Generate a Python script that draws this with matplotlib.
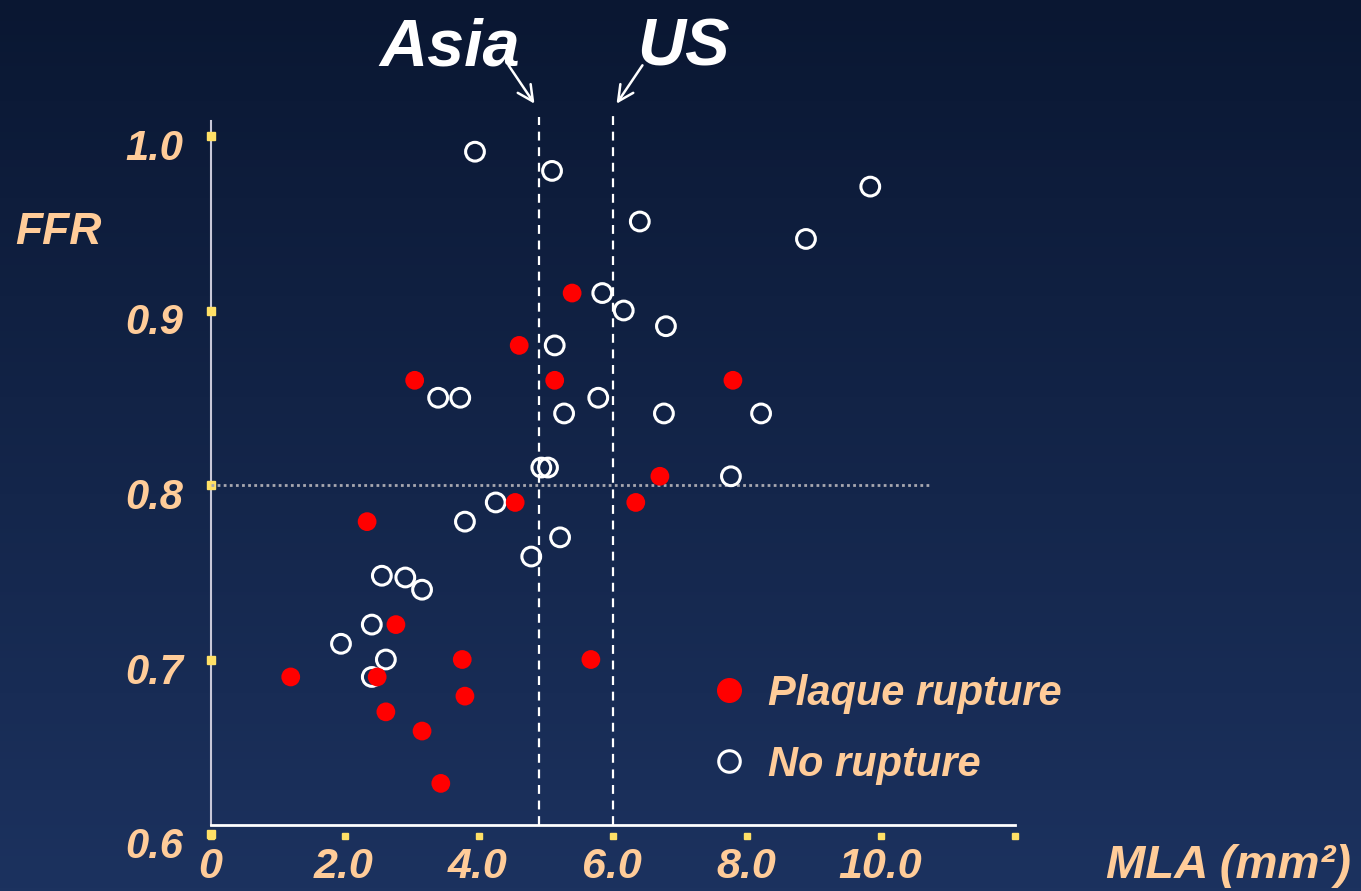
import numpy as np
import matplotlib.pyplot as plt
from matplotlib.lines import Line2D
from matplotlib.patches import FancyArrowPatch

# Data (MLA in mm2, FFR)
rupture_mla = [5.39, 4.60, 3.04, 5.13, 7.79, 6.70, 4.54, 6.34, 2.33,
               2.76, 3.75, 5.67, 1.19, 2.48, 3.79, 2.61, 3.15, 3.43]
rupture_ffr = [0.910, 0.880, 0.860, 0.860, 0.860, 0.805, 0.790, 0.790, 0.779,
               0.720, 0.700, 0.700, 0.690, 0.690, 0.679, 0.670, 0.659, 0.629]

norupt_mla = [3.94, 5.09, 6.40, 9.84, 8.88, 5.84, 6.16, 6.79, 5.13, 3.39,
              3.72, 5.78, 5.27, 6.76, 8.21, 4.93, 5.03, 7.76, 4.25, 3.79,
              5.21, 4.78, 2.55, 2.90, 3.15, 2.40, 1.94, 2.61, 2.40]
norupt_ffr = [0.991, 0.980, 0.951, 0.971, 0.941, 0.910, 0.900, 0.891, 0.880, 0.850,
              0.850, 0.850, 0.841, 0.841, 0.841, 0.810, 0.810, 0.805, 0.790, 0.779,
              0.770, 0.759, 0.748, 0.747, 0.740, 0.720, 0.709, 0.700, 0.690]

x_ticks = [0, 2, 4, 6, 8, 10, 12]
x_labels = ['0', '2.0', '4.0', '6.0', '8.0', '10.0', '']
y_ticks = [0.6, 0.7, 0.8, 0.9, 1.0]
y_labels = ['0.6', '0.7', '0.8', '0.9', '1.0']

asia_cut = 4.9
us_cut = 6.0
ffr_cut = 0.8

orange = '#FFCC99'
yellow = '#FFE066'
font = 'Liberation Sans'

W, H = 1361, 891
fig = plt.figure(figsize=(W / 100, H / 100), dpi=100)

# background gradient
bg = fig.add_axes([0, 0, 1, 1], zorder=-10)
top = np.array([10, 23, 50]) / 255
bot = np.array([28, 50, 95]) / 255
t = np.linspace(0, 1, 256)[:, None]
grad = top + (bot - top) * t
bg.imshow(grad[:, None, :].repeat(2, axis=1), aspect='auto', extent=[0, 1, 0, 1])
bg.axis('off')

# main axes: x 0..12 -> px 211..1015, y 0.6..1.0 -> px 834..136
ax = fig.add_axes([211 / W, (H - 834) / H, 804 / W, 698 / H])
ax.set_xlim(0, 12)
ax.set_ylim(0.6, 1.0)
ax.patch.set_alpha(0)
for s in ax.spines.values():
    s.set_visible(False)
ax.set_xticks([])
ax.set_yticks([])

# axis lines
ax.plot([0, 0], [0.605, 1.0086], color='#C8C8D8', lw=1.5, clip_on=False)
ax.plot([0, 12], [0.605, 0.605], color='white', lw=2, clip_on=False)

# tick marks (yellow squares) and labels
ax.plot(np.zeros(len(y_ticks)), y_ticks, 's', color=yellow, ms=5.5, clip_on=False)
ax.plot(x_ticks, np.full(len(x_ticks), 0.5989), 's', color=yellow, ms=4.5, clip_on=False)
for yv, lab in zip(y_ticks, y_labels):
    ax.annotate(lab, (0, yv), xytext=(-28, -13), textcoords='offset pixels',
                ha='right', va='center', color=orange, fontsize=30,
                family=font, weight='bold', style='italic', annotation_clip=False)
for xv, lab in zip(x_ticks, x_labels):
    ax.annotate(lab, (xv, 0.6), xytext=(-1, -33), textcoords='offset pixels',
                ha='center', va='center', color=orange, fontsize=31,
                family=font, weight='bold', style='italic', annotation_clip=False)

fig.text(58 / W, (H - 232) / H, 'FFR', color=orange, fontsize=32, family=font,
         weight='bold', style='italic', ha='center', va='center')
fig.text(1229 / W, (H - 866) / H, 'MLA (mm²)', color=orange, fontsize=34,
         family=font, weight='bold', style='italic', ha='center', va='center')

# cut-off lines
ax.plot([asia_cut, asia_cut], [0.605, 1.011], color='white', lw=1.6,
        dashes=(4, 3), clip_on=False)
ax.plot([us_cut, us_cut], [0.605, 1.012], color='white', lw=1.6,
        dashes=(4, 3), clip_on=False)
ax.plot([0, 10.75], [ffr_cut, ffr_cut], color='#A8A8B0', lw=2, dashes=(1, 1.2))

# points
ax.scatter(norupt_mla, norupt_ffr, s=13.5 ** 2, facecolors='none',
           edgecolors='white', linewidths=2.2, zorder=5)
ax.scatter(rupture_mla, rupture_ffr, s=13.5 ** 2, color='#FF0000',
           edgecolors='none', zorder=6)

# Asia / US labels with arrows
fig.text(450 / W, (H - 48) / H, 'Asia', color='white', fontsize=48, family=font,
         weight='bold', style='italic', ha='center', va='center')
fig.text(683 / W, (H - 48) / H, 'US', color='white', fontsize=48, family=font,
         weight='bold', style='italic', ha='center', va='center')
arrow = dict(arrowstyle='->', color='white', lw=1.8, mutation_scale=28)
fig.add_artist(FancyArrowPatch((507, H - 63), (536, H - 106), transform=None, **arrow))
fig.add_artist(FancyArrowPatch((644, H - 63), (615, H - 106), transform=None, **arrow))

# legend
handles = [Line2D([], [], marker='o', ls='none', color='#FF0000', ms=17),
           Line2D([], [], marker='o', ls='none', mfc='none', mec='white',
                  mew=2.2, ms=15.5)]
leg = ax.legend(handles, ['Plaque rupture', 'No rupture'], loc='upper left',
                bbox_to_anchor=(671 / W, (H - 636) / H), bbox_transform=fig.transFigure,
                frameon=False, handlelength=1.0, handletextpad=0.42,
                labelspacing=0.75, prop=dict(family=font, weight='bold',
                                             style='italic', size=30))
for txt in leg.get_texts():
    txt.set_color(orange)

fig.savefig('out.png', dpi=100)
